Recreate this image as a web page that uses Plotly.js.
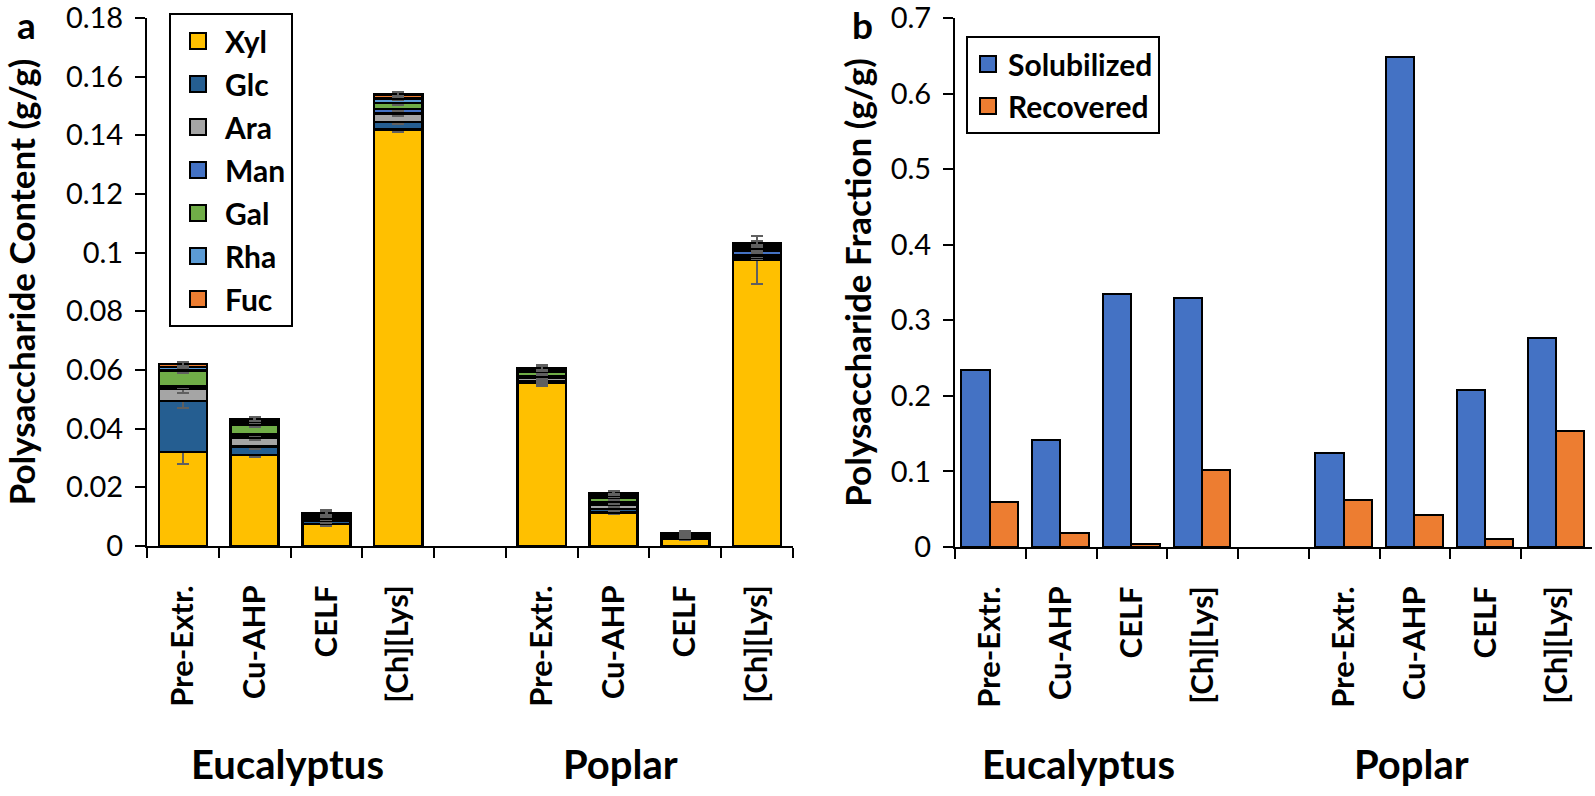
<!DOCTYPE html>
<html>
<head>
<meta charset="utf-8">
<script src="https://cdn.plot.ly/plotly-3.0.1.min.js"></script>
<style>html,body{margin:0;padding:0;background:#fff;overflow:hidden;}#chart{width:1595px;height:796px;}</style>
</head>
<body>
<div id="chart"></div>
<script>
// ---------- data ----------
const woods = ['Eucalyptus', 'Poplar'];
const treatments = ['Pre-Extr.', 'Cu-AHP', 'CELF', '[Ch][Lys]'];

// Panel a: sugar content (g/g), order: Eucalyptus x4, Poplar x4
const sugars = ['Xyl', 'Glc', 'Ara', 'Man', 'Gal', 'Rha', 'Fuc'];
const Xyl = [0.032, 0.031, 0.0075, 0.142, 0.0555, 0.0115, 0.0025, 0.0975];
const Glc = [0.0175, 0.003, 0.001, 0.0025, 0.0008, 0.0012, 0.0005, 0.0008];
const Ara = [0.004, 0.003, 0.0008, 0.003, 0.001, 0.0015, 0.0004, 0.0008];
const Man = [0.0008, 0.001, 0.0005, 0.0015, 0.0005, 0.0008, 0.0003, 0.0015];
const Gal = [0.0055, 0.0035, 0.0007, 0.002, 0.0015, 0.0015, 0.0004, 0.0008];
const Rha = [0.0012, 0.001, 0.0004, 0.0015, 0.0007, 0.0008, 0.0002, 0.001];
const Fuc = [0.001, 0.0008, 0.0004, 0.0015, 0.0007, 0.0008, 0.0002, 0.0008];

const XylErr = [0.004, 0.0007, 0.0006, 0.0007, 0.0008, 0.0006, 0.0004, 0.0082];
const GlcErr = [0.0024, 0.0007, 0.0005, 0.0007, 0.0005, 0.0006, 0.0003, 0.0005];
const AraErr = [0.0013, 0.0008, 0.0005, 0.0008, 0.0008, 0.0008, 0.0003, 0.0006];
const ManErr = [0.0005, 0.0005, 0.0003, 0.0006, 0.0004, 0.0005, 0.0002, 0.0006];
const GalErr = [0.0006, 0.0007, 0.0004, 0.0007, 0.0008, 0.0006, 0.0003, 0.0006];
const RhaErr = [0.0004, 0.0004, 0.0003, 0.0005, 0.0004, 0.0004, 0.0002, 0.0005];
const FucErr = [0.0008, 0.0007, 0.0008, 0.0008, 0.0008, 0.0006, 0.0005, 0.0007];
const yTicksA = [0, 0.02, 0.04, 0.06, 0.08, 0.1, 0.12, 0.14, 0.16, 0.18];
const yLabelsA = ['0', '0.02', '0.04', '0.06', '0.08', '0.1', '0.12', '0.14', '0.16', '0.18'];

// Panel b: polysaccharide fraction (g/g)
const fractions = ['Solubilized', 'Recovered'];
const Solubilized = [0.234, 0.142, 0.335, 0.329, 0.124, 0.649, 0.208, 0.277];
const Recovered = [0.060, 0.018, 0.004, 0.102, 0.062, 0.043, 0.011, 0.153];
const yTicksB = [0, 0.1, 0.2, 0.3, 0.4, 0.5, 0.6, 0.7];
const yLabelsB = ['0', '0.1', '0.2', '0.3', '0.4', '0.5', '0.6', '0.7'];

// ---------- build ----------
const FONT = 'Lato, "Open Sans", sans-serif';
const keys = [];
woods.forEach(w => treatments.forEach(t => keys.push(w + '|' + t)));
const gapKey = 'gap';
const catOrder = keys.slice(0, 4).concat([gapKey], keys.slice(4));
const tickText = catOrder.map(k => k === gapKey ? '' : k.split('|')[1]);

const sugarVals = [Xyl, Glc, Ara, Man, Gal, Rha, Fuc];
const sugarErrs = [XylErr, GlcErr, AraErr, ManErr, GalErr, RhaErr, FucErr];
const sugarColors = ['#FFC000', '#255E91', '#A5A5A5', '#4472C4', '#70AD47', '#5B9BD5', '#ED7D31'];

const traces = [];
sugars.forEach((s, i) => {
  traces.push({
    type: 'bar', name: s, x: keys, y: sugarVals[i],
    xaxis: 'x', yaxis: 'y', showlegend: false,
    width: 0.67,
    marker: {color: sugarColors[i], line: {color: '#000', width: 2.5}},
    error_y: {type: 'data', array: sugarErrs[i], visible: true, color: '#606060', thickness: 2.5, width: 6}
  });
});
// legend swatches (square markers, no drawn point) for panel a
sugars.forEach((s, i) => {
  traces.push({
    type: 'scatter', mode: 'markers', name: s, x: [keys[0]], y: [null],
    xaxis: 'x', yaxis: 'y', legend: 'legend', legendgroup: s, hoverinfo: 'skip',
    marker: {symbol: 'square', size: 16, color: sugarColors[i], line: {color: '#000', width: 2}}
  });
});
const fracVals = [Solubilized, Recovered];
const fracColors = ['#4472C4', '#ED7D31'];
fractions.forEach((f, i) => {
  traces.push({
    type: 'bar', name: f, x: keys, y: fracVals[i],
    xaxis: 'x2', yaxis: 'y2', showlegend: false,
    base: 0, width: 0.4, offset: i === 0 ? -0.41 : -0.01,
    marker: {color: fracColors[i], line: {color: '#000', width: 2}}
  });
});
fractions.forEach((f, i) => {
  traces.push({
    type: 'scatter', mode: 'markers', name: f, x: [keys[0]], y: [null],
    xaxis: 'x2', yaxis: 'y2', legend: 'legend2', legendgroup: f, hoverinfo: 'skip',
    marker: {symbol: 'square', size: 16, color: fracColors[i], line: {color: '#000', width: 2}}
  });
});

const xBase = {
  type: 'category', categoryorder: 'array', categoryarray: catOrder,
  tickmode: 'array', tickvals: catOrder, ticktext: tickText,
  tickangle: -90, tickson: 'boundaries', ticks: 'outside', ticklen: 10, tickwidth: 2,
  tickcolor: '#000', showline: true, linecolor: '#000', linewidth: 2,
  showgrid: false, zeroline: false, ticklabelstandoff: 25,
  tickfont: {family: FONT, size: 31, color: '#000', weight: 'bold'}
};
const yBase = {
  ticks: 'outside', ticklen: 10, tickwidth: 2, tickcolor: '#000',
  showline: true, linecolor: '#000', linewidth: 2, showgrid: false, zeroline: false,
  ticklabelstandoff: 6, tickmode: 'array', ticklabeloverflow: 'allow',
  tickfont: {family: FONT, size: 29, color: '#000'}
};
const titleFont = {family: FONT, size: 35, color: '#000', weight: 'bold'};
const groupFont = {family: FONT, size: 40, color: '#000', weight: 'bold'};
const legFont = {family: FONT, size: 30, color: '#000', weight: 'bold'};
const panelFont = {family: FONT, size: 37, color: '#000', weight: 'bold'};

const layout = {
  width: 1595, height: 796, margin: {l: 0, r: 0, t: 0, b: 0},
  paper_bgcolor: '#fff', plot_bgcolor: 'rgba(0,0,0,0)',
  barmode: 'stack', showlegend: true,
  xaxis: Object.assign({}, xBase, {domain: [147 / 1595, 793 / 1595], anchor: 'y', range: [-0.5, 8.5]}),
  yaxis: Object.assign({}, yBase, {domain: [1 - 546 / 796, 1 - 18 / 796], anchor: 'x', range: [0, 0.18],
    tickvals: yTicksA, ticktext: yLabelsA,
    title: {text: 'Polysaccharide Content (g/g)', standoff: 23, font: titleFont}}),
  xaxis2: Object.assign({}, xBase, {domain: [955 / 1595, 1592 / 1595], anchor: 'y2', range: [-0.5, 8.5]}),
  yaxis2: Object.assign({}, yBase, {domain: [1 - 547 / 796, 1 - 18 / 796], anchor: 'x2', range: [0, 0.7],
    tickvals: yTicksB, ticktext: yLabelsB,
    title: {text: 'Polysaccharide Fraction (g/g)', standoff: 8, font: titleFont}}),
  legend: {
    x: 169 / 1595, y: 1 - 13 / 796, xanchor: 'left', yanchor: 'top',
    bordercolor: '#000', borderwidth: 2, bgcolor: '#fff', traceorder: 'grouped', tracegroupgap: 1,
    itemwidth: 44, font: legFont
  },
  legend2: {
    x: 966 / 1595, y: 1 - 36 / 796, xanchor: 'left', yanchor: 'top',
    bordercolor: '#000', borderwidth: 2, bgcolor: '#fff', traceorder: 'grouped', tracegroupgap: 0,
    itemwidth: 30, font: legFont
  },
  annotations: [
    {text: 'a', xref: 'paper', yref: 'paper', x: 26 / 1595, y: 1, xanchor: 'center', yanchor: 'top', showarrow: false, font: panelFont},
    {text: 'b', xref: 'paper', yref: 'paper', x: 862 / 1595, y: 1, xanchor: 'center', yanchor: 'top', showarrow: false, font: panelFont},
    {text: woods[0], xref: 'x', yref: 'paper', x: 1.46, y: 1 - 764 / 796, yanchor: 'middle', showarrow: false, font: groupFont},
    {text: woods[1], xref: 'x', yref: 'paper', x: 6.1, y: 1 - 764 / 796, yanchor: 'middle', showarrow: false, font: groupFont},
    {text: woods[0], xref: 'x2', yref: 'paper', x: 1.25, y: 1 - 764 / 796, yanchor: 'middle', showarrow: false, font: groupFont},
    {text: woods[1], xref: 'x2', yref: 'paper', x: 5.95, y: 1 - 764 / 796, yanchor: 'middle', showarrow: false, font: groupFont}
  ]
};

Plotly.newPlot('chart', traces, layout, {displayModeBar: false, staticPlot: true});
</script>
</body>
</html>
